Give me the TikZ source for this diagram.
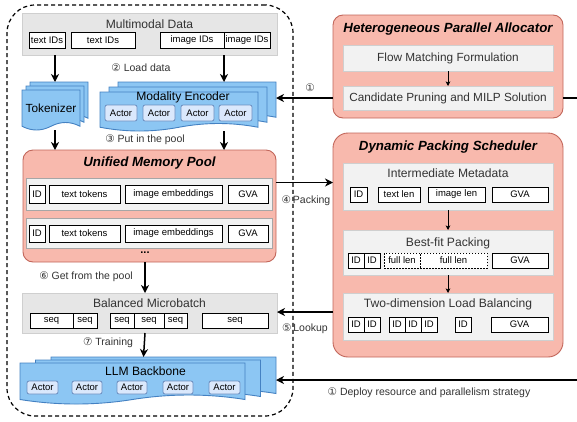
\documentclass[tikz,border=0pt]{standalone}
\usepackage{fontspec}
\setmainfont{Liberation Sans}
\newfontfamily\circfont{DejaVu Sans}
\usetikzlibrary{arrows.meta}

\definecolor{pinkfill}{HTML}{F8B9AD}
\definecolor{pinkline}{HTML}{C2665A}
\definecolor{bluefill}{HTML}{8CC6F3}
\definecolor{blueline}{HTML}{4481C2}
\definecolor{actorfill}{HTML}{DAE8FC}
\definecolor{actorline}{HTML}{6C8EBF}
\definecolor{panel}{HTML}{E6E6E6}
\definecolor{subpanel}{HTML}{F2F2F2}
\definecolor{subline}{HTML}{CFCFCF}
\definecolor{rowline}{HTML}{A6A6A6}
\definecolor{txt}{HTML}{333333}

\tikzset{
  base/.style={inner sep=0pt, outer sep=0pt, align=center},
  small/.style={font=\fontsize{9.5}{11}\selectfont},
  cell/.style={base, small, draw=black, line width=0.8pt, fill=white},
  dcell/.style={base, small, draw=black, line width=0.8pt, dash pattern=on 1.5pt off 1.5pt, fill=white},
  actor/.style={base, small, draw=actorline, line width=0.8pt, fill=actorfill, rounded corners=2pt},
  panelbox/.style={base, fill=panel, draw=panel!90!black, line width=0.5pt},
  subbox/.style={base, fill=subpanel, draw=subline, line width=0.8pt, text=txt, font=\fontsize{11.8}{13}\selectfont},
  rowbox/.style={base, fill=subpanel, draw=rowline, line width=0.8pt},
  pinkbox/.style={base, fill=pinkfill, draw=pinkline, line width=0.9pt, rounded corners=10pt},
  docstyle/.style={fill=bluefill, draw=blueline, line width=0.9pt},
  heading/.style={base, text=txt, font=\fontsize{12.1}{14}\selectfont},
  bigtitle/.style={base, font=\fontsize{13.3}{15}\selectfont\bfseries\itshape},
  lbl/.style={base, text=txt, font=\fontsize{10.5}{12}\selectfont},
  arr/.style={line width=1.5pt, -{Stealth[length=8pt,width=8pt,inset=2.5pt]}},
  thinarr/.style={line width=0.8pt, -{Stealth[length=4.5pt,width=4.5pt,inset=1pt]}},
  container/.style={draw=black, line width=1.2pt, dash pattern=on 4pt off 3pt, rounded corners=28pt},
}

% rectangle node from two corners: name, x1, y1, x2, y2, style, text
\newcommand\bx[7]{%
  \node[#6, minimum width={(#4)-(#2)}, minimum height={(#5)-(#3)}]
    (#1) at ({((#2)+(#4))/2},{((#3)+(#5))/2}) {#7};}

% a single wavy-bottomed document: x1, y1, x2, y2 (lowest point), wave depth
\newcommand\docshape[5]{%
  \pgfmathsetmacro\mdW{(#3)-(#1)}%
  \pgfmathsetmacro\mdM{((#1)+(#3))/2}%
  \pgfmathsetmacro\mdB{(#4)-0.75*(#5)}%
  \filldraw[docstyle] (#1,#2) -- (#3,#2) -- (#3,\mdB)
    .. controls ({#3-\mdW/6},{\mdB-#5}) and ({\mdM+\mdW/6},{\mdB-#5}) .. (\mdM,\mdB)
    .. controls ({\mdM-\mdW/6},{\mdB+#5}) and ({#1+\mdW/6},{\mdB+#5}) .. (#1,\mdB) -- cycle;}

% stack of three documents: name, x1, y1, x2, y2, dx, dy, wave depth
\newcommand\multidoc[8]{%
  \pgfmathsetmacro\mdXa{#2+2*#6}\pgfmathsetmacro\mdYa{#5-2*#7}%
  \docshape{\mdXa}{#3}{#4}{\mdYa}{#8}%
  \pgfmathsetmacro\mdXb{#2+#6}\pgfmathsetmacro\mdYb{#3+#7}%
  \pgfmathsetmacro\mdXc{#4-#6}\pgfmathsetmacro\mdYc{#5-#7}%
  \docshape{\mdXb}{\mdYb}{\mdXc}{\mdYc}{#8}%
  \pgfmathsetmacro\mdXd{#4-2*#6}\pgfmathsetmacro\mdYd{#3+2*#7}%
  \docshape{#2}{\mdYd}{\mdXd}{#5}{#8}%
  \bx{#1}{#2}{#3}{#4}{#5}{base}{}}

\newcommand\cn[1]{{\circfont #1}}

\begin{document}
\begin{tikzpicture}[x=1pt, y=-1pt]
\useasboundingbox (0,0) rectangle (577,421);

% ---------- training-side container ----------
\bx{frame}{7}{5}{293}{416}{container}{}

% ---------- multimodal data ----------
\bx{mm}{22}{13}{277}{55}{panelbox}{}
\node[heading] (mmt) at (149.5,24) {Multimodal Data};
\bx{tid1}{29}{32}{65}{48}{cell}{text IDs}
\bx{tid2}{71}{32}{135}{48}{cell}{text IDs}
\bx{iid1}{160}{32}{224}{48}{cell}{image IDs}
\bx{iid2}{224}{32}{270}{48}{cell}{image IDs}

% ---------- tokenizer and modality encoder ----------
\multidoc{tok}{22}{82}{88}{130}{4}{4}{5}
\node[base, font=\fontsize{11.8}{13}\selectfont] (tokt) at (51,108) {Tokenizer};

\multidoc{enc}{100}{82}{276}{131}{9}{5}{5}
\node[heading, text=black] (enct) at (183,97) {Modality Encoder};
\bx{ea1}{105}{105}{137}{121}{actor}{Actor}
\bx{ea2}{143}{105}{175}{121}{actor}{Actor}
\bx{ea3}{181}{105}{214}{121}{actor}{Actor}
\bx{ea4}{219}{105}{252}{121}{actor}{Actor}

% ---------- unified memory pool ----------
\bx{pool}{23}{150}{276}{262}{pinkbox}{}
\node[bigtitle] (poolt) at (149.5,163) {Unified Memory Pool};
\bx{row1}{26}{178}{272}{210}{rowbox}{}
\bx{r1a}{29}{185}{45}{203}{cell}{ID}
\bx{r1b}{49}{185}{120}{203}{cell}{text tokens}
\bx{r1c}{125}{185}{222}{203}{cell}{image embeddings}
\bx{r1d}{228}{185}{268}{203}{cell}{GVA}
\bx{row2}{26}{218}{272}{248}{rowbox}{}
\bx{r2a}{29}{225}{45}{242}{cell}{ID}
\bx{r2b}{49}{225}{120}{242}{cell}{text tokens}
\bx{r2c}{125}{225}{222}{242}{cell}{image embeddings}
\bx{r2d}{228}{225}{268}{242}{cell}{GVA}
\node[base, font=\fontsize{11}{12}\selectfont\bfseries] (dots) at (145,253) {...};

% ---------- balanced microbatch ----------
\bx{mb}{22}{293}{277}{333}{panelbox}{}
\node[heading] (mbt) at (149.5,303) {Balanced Microbatch};
\bx{s1}{30}{313}{73}{328}{cell}{seq}
\bx{s2}{73}{313}{97}{328}{cell}{seq}
\bx{s3}{110}{313}{134}{328}{cell}{seq}
\bx{s4}{134}{313}{164}{328}{cell}{seq}
\bx{s5}{164}{313}{187}{328}{cell}{seq}
\bx{s6}{202}{313}{268}{328}{cell}{seq}

% ---------- LLM backbone ----------
\multidoc{llm}{20}{357}{276}{404}{15.5}{3}{6}
\node[heading, text=black] (llmt) at (145.5,371) {LLM Backbone};
\bx{la1}{27}{381}{58}{394}{actor}{Actor}
\bx{la2}{72}{381}{102}{394}{actor}{Actor}
\bx{la3}{117}{381}{147}{394}{actor}{Actor}
\bx{la4}{163}{381}{193}{394}{actor}{Actor}
\bx{la5}{209}{381}{240}{394}{actor}{Actor}

% ---------- heterogeneous parallel allocator ----------
\bx{alloc}{333}{15}{563}{118}{pinkbox}{}
\node[bigtitle] (alloct) at (448,29) {Heterogeneous Parallel Allocator};
\bx{flow}{343}{45}{553}{71}{subbox}{Flow Matching Formulation}
\bx{cand}{343}{86}{553}{110}{subbox}{Candidate Pruning and MILP Solution}
\draw[thinarr] (flow) -- (cand);

% ---------- dynamic packing scheduler ----------
\bx{sched}{333}{133}{563}{357}{pinkbox, rounded corners=15pt}{}
\node[bigtitle] (schedt) at (448,147) {Dynamic Packing Scheduler};

\bx{meta}{343}{163}{553}{210}{subbox}{}
\node[heading] (metat) at (448,173) {Intermediate Metadata};
\bx{m1}{350}{187}{367}{202}{cell}{ID}
\bx{m2}{378}{187}{420}{202}{cell}{text len}
\bx{m3}{428}{187}{485}{202}{cell}{image len}
\bx{m4}{492}{187}{548}{202}{cell}{GVA}

\bx{fit}{343}{230}{553}{275}{subbox}{}
\node[heading] (fitt) at (448,243) {Best-fit Packing};
\bx{f1}{348}{253}{364}{268}{cell}{ID}
\bx{f2}{364}{253}{380}{268}{cell}{ID}
\bx{f3}{384}{253}{420}{268}{dcell}{full len}
\bx{f4}{420}{253}{487}{268}{dcell}{full len}
\bx{f5}{492}{253}{548}{268}{cell}{GVA}

\bx{bal}{343}{293}{553}{340}{subbox}{}
\node[heading] (balt) at (448,304) {Two-dimension Load Balancing};
\bx{b1}{348}{317}{364}{332}{cell}{ID}
\bx{b2}{364}{317}{380}{332}{cell}{ID}
\bx{b3}{389}{317}{405}{332}{cell}{ID}
\bx{b4}{405}{317}{421}{332}{cell}{ID}
\bx{b5}{421}{317}{437}{332}{cell}{ID}
\bx{b6}{455}{317}{471}{332}{cell}{ID}
\bx{b7}{491}{317}{548}{332}{cell}{GVA}

\draw[thinarr] (meta) -- (fit);
\draw[thinarr] (fit) -- (bal);

% ---------- connectors ----------
\coordinate (edgeTop) at (577,98);
\coordinate (edgeBot) at (577,380);

\draw[arr] (mm.south -| tok) -- (tok.north);
\draw[arr] (mm.south -| iid1.east) -- (enc.north -| iid1.east);
\draw[arr] (tok.south) -- (pool.north -| tok);
\draw[arr] (enc.south -| iid1.east) -- (pool.north -| iid1.east);
\draw[arr] ([xshift=-4.5pt]pool.south) -- ([xshift=-4.5pt]mb.north);
\draw[arr] ([xshift=-4.5pt]mb.south) -- ([xshift=-4.5pt]llm.north);

\draw[arr] (alloc.west |- cand) -- (enc.east |- cand);
\draw[line width=1.5pt] (alloc.east |- cand) -- (edgeTop);
\draw[arr] ([yshift=4pt]pool.east |- meta) -- ([yshift=4pt]sched.west |- meta);
\draw[arr] (sched.west |- 0,312) -- (mb.east |- 0,312);
\draw[arr] (edgeBot) -- (llm.east |- edgeBot);

% ---------- step labels ----------
\node[lbl] (lab1) at (310,88) {\cn{①}};
\node[lbl] (lab2) at (141,68) {\cn{②} Load data};
\node[lbl] (lab3) at (145,140) {\cn{③} Put in the pool};
\node[lbl] (lab4) at (306,201) {\cn{④}\,Packing};
\node[lbl] (lab5) at (305,329) {\cn{⑤}\,Lookup};
\node[lbl] (lab6) at (86,277) {\cn{⑥} Get from the pool};
\node[lbl] (lab7) at (108,343) {\cn{⑦} Training};
\node[lbl] (lab1b) at (429,393) {\cn{①} Deploy resource and parallelism strategy};
\end{tikzpicture}
\end{document}
